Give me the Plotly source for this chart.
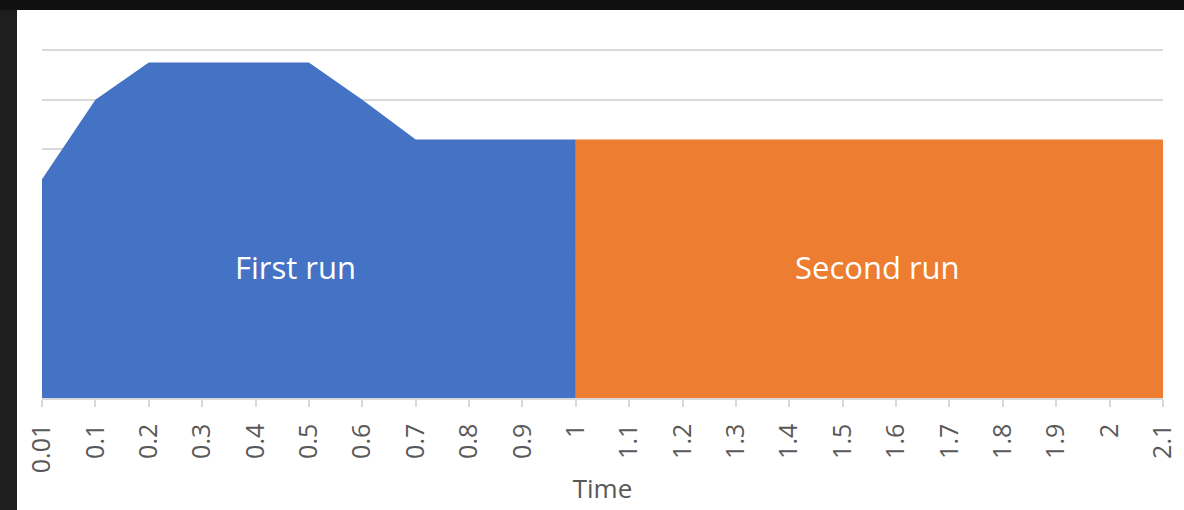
import plotly.graph_objects as go

# Category labels on the Time axis
time_labels = ["0.01", "0.1", "0.2", "0.3", "0.4", "0.5", "0.6", "0.7", "0.8", "0.9", "1",
               "1.1", "1.2", "1.3", "1.4", "1.5", "1.6", "1.7", "1.8", "1.9", "2", "2.1"]

# First run series (0.01 .. 1)
first_run_labels = time_labels[:11]
first_run_values = [88, 120, 135, 135, 135, 135, 120, 104, 104, 104, 104]

# Second run series (1 .. 2.1)
second_run_labels = time_labels[10:]
second_run_values = [104] * 12

# Hidden value-axis gridline positions
grid_values = [20, 40, 60, 80, 100, 120, 140]

idx = {lab: i for i, lab in enumerate(time_labels)}

W, H = 1184, 510
L, R, T, B = 42, 21, 45, 112
pw, ph = W - L - R, H - T - B

def px_x(p):
    return (p - L) / pw

def px_y(p):
    return (H - B - p) / ph

fig = go.Figure()
fig.add_trace(go.Scatter(
    x=[idx[l] for l in first_run_labels], y=first_run_values,
    mode="lines", line=dict(width=0, color="#4472C4"),
    fill="tozeroy", fillcolor="#4472C4", name="First run", hoverinfo="skip"))
fig.add_trace(go.Scatter(
    x=[idx[l] for l in second_run_labels], y=second_run_values,
    mode="lines", line=dict(width=0, color="#ED7D31"),
    fill="tozeroy", fillcolor="#ED7D31", name="Second run", hoverinfo="skip"))

fig.add_annotation(x=4.74, y=52.5, text="First run", showarrow=False,
                   font=dict(family="Open Sans", size=31, color="white"))
fig.add_annotation(x=15.66, y=52.5, text="Second run", showarrow=False,
                   font=dict(family="Open Sans", size=31, color="white"))

shapes = [
    dict(type="rect", xref="paper", yref="paper", layer="below",
         x0=px_x(17), x1=px_x(W + 5), y0=px_y(H + 5), y1=px_y(10),
         fillcolor="white", line=dict(width=0)),
    dict(type="rect", xref="paper", yref="paper", layer="below",
         x0=px_x(-5), x1=px_x(W + 5), y0=px_y(10), y1=px_y(-5),
         fillcolor="#101010", line=dict(width=0)),
]

fig.update_layout(
    width=W, height=H,
    margin=dict(l=L, r=R, t=T, b=B, autoexpand=False),
    paper_bgcolor="#1e1e1e", plot_bgcolor="white",
    showlegend=False, shapes=shapes,
    font=dict(family="Open Sans", color="#595959"),
)
fig.update_xaxes(
    range=[0, 21], tickmode="array", tickvals=list(range(len(time_labels))),
    ticktext=time_labels, tickangle=-90, tickfont=dict(size=25, color="#595959"),
    ticks="outside", ticklen=7, tickcolor="#d9d9d9", tickwidth=1.5,
    ticklabelstandoff=7,
    showgrid=False, showline=True, linecolor="#d9d9d9", linewidth=1.5, zeroline=False,
    title=dict(text="Time", font=dict(size=26, color="#595959"), standoff=8),
    automargin=False, fixedrange=True,
)
fig.update_yaxes(
    range=[0, 142], tickmode="array", tickvals=grid_values,
    showticklabels=False, showgrid=True,
    gridcolor="#d9d9d9", gridwidth=1.5, zeroline=False, showline=False,
    automargin=False, fixedrange=True,
)

fig.write_html("out.html", config=dict(displayModeBar=False))
